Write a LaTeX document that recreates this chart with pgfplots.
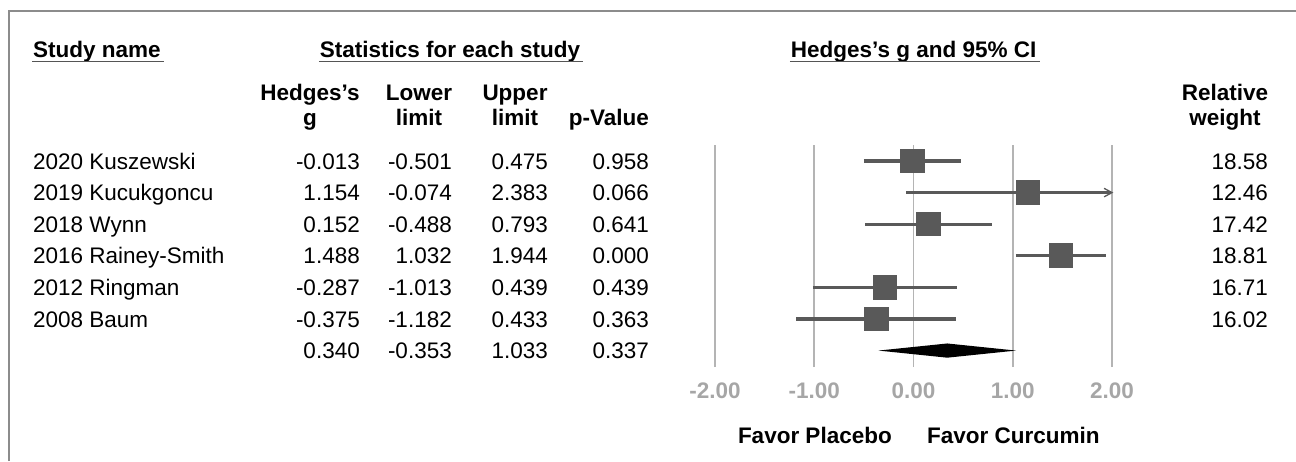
\documentclass[border=0pt]{standalone}
\usepackage{fontspec}
\setmainfont{Liberation Sans}
\usepackage{pgfplots}
\pgfplotsset{compat=1.18}
\definecolor{cic}{HTML}{595959}
\definecolor{gridc}{HTML}{B4B4B4}
\definecolor{tickc}{HTML}{A6A6A6}
\definecolor{framec}{HTML}{8C8C8C}
\definecolor{ulc}{HTML}{555555}
\begin{document}
\fontsize{22.5}{27}\selectfont
\begin{tikzpicture}
\begin{scope}[x=1pt,y=-1pt]
\path[use as bounding box] (0,0) rectangle (1296,461);
\draw[framec, line width=2pt] (8.5,461) -- (8.5,10.5) -- (1296,10.5);
% top headers
\node[anchor=base west, inner sep=0pt] (h1) at (33,57) {\bfseries Study name};
\node[anchor=base, inner sep=0pt] (h2) at (450,57) {\bfseries Statistics for each study};
\node[anchor=base, inner sep=0pt] (h3) at (913.7,57) {\bfseries Hedges's g and 95\% CI};
\foreach \n in {h1,h2,h3}{
  \draw[ulc, line width=1.8pt] ([xshift=-1pt,yshift=-4.5pt]\n.base west) -- ([xshift=3pt,yshift=-4.5pt]\n.base east);
}
% column headers
\node[anchor=base, inner sep=0pt] at (310,100) {\bfseries Hedges's};
\node[anchor=base, inner sep=0pt] at (310,125) {\bfseries g};
\node[anchor=base, inner sep=0pt] at (419,100) {\bfseries Lower};
\node[anchor=base, inner sep=0pt] at (419,125) {\bfseries limit};
\node[anchor=base, inner sep=0pt] at (515,100) {\bfseries Upper};
\node[anchor=base, inner sep=0pt] at (515,125) {\bfseries limit};
\node[anchor=base east, inner sep=0pt] at (649,125) {\bfseries p-Value};
\node[anchor=base, inner sep=0pt] at (1225,100) {\bfseries Relative};
\node[anchor=base, inner sep=0pt] at (1225,125) {\bfseries weight};
% rows
\foreach \yy/\nm/\g/\lo/\up/\p/\w in {
 169/2020 Kuszewski/-0.013/-0.501/0.475/0.958/18.58,
 200.7/2019 Kucukgoncu/1.154/-0.074/2.383/0.066/12.46,
 232.3/2018 Wynn/0.152/-0.488/0.793/0.641/17.42,
 263.9/2016 Rainey-Smith/1.488/1.032/1.944/0.000/18.81,
 295.5/2012 Ringman/-0.287/-1.013/0.439/0.439/16.71,
 327.1/2008 Baum/-0.375/-1.182/0.433/0.363/16.02}{
  \node[anchor=base west, inner sep=0pt] at (33,\yy) {\nm};
  \node[anchor=base east, inner sep=0pt] at (360,\yy) {\g};
  \node[anchor=base east, inner sep=0pt] at (452,\yy) {\lo};
  \node[anchor=base east, inner sep=0pt] at (548,\yy) {\up};
  \node[anchor=base east, inner sep=0pt] at (649,\yy) {\p};
  \node[anchor=base east, inner sep=0pt] at (1268,\yy) {\w};
}
\node[anchor=base east, inner sep=0pt] at (360,358.7) {0.340};
\node[anchor=base east, inner sep=0pt] at (452,358.7) {-0.353};
\node[anchor=base east, inner sep=0pt] at (548,358.7) {1.033};
\node[anchor=base east, inner sep=0pt] at (649,358.7) {0.337};
% favour labels
\node[anchor=base east, inner sep=0pt] at (892,443) {\bfseries Favor Placebo};
\node[anchor=base west, inner sep=0pt] at (927,443) {\bfseries Favor Curcumin};
\end{scope}
\begin{axis}[at={(715pt,-367pt)}, anchor=south west, scale only axis,
  width=397pt, height=222pt,
  xmin=-2, xmax=2, ymin=0.48, ymax=7.506,
  axis line style={draw=none},
  xtick={-2,-1,0,1,2},
  xticklabels={-2.00,-1.00,0.00,1.00,2.00},
  ytick=\empty,
  major tick style={draw=none},
  xmajorgrids, grid style={gridc, line width=1.8pt},
  xticklabel style={font=\bfseries, text=tickc, anchor=base, inner sep=0pt, yshift=-31pt},
  clip=false]
\pgfplotsset{ci/.style={cic, line width=3.2pt, no marks}}
\addplot[ci] coordinates {(-0.501,7) (0.475,7)};
\addplot[ci] coordinates {(-0.074,6) (1.985,6)};
\addplot[cic, line width=1.3pt, no marks] coordinates {(1.92,6.135) (2.0,6) (1.92,5.865)};
\addplot[ci] coordinates {(-0.488,5) (0.793,5)};
\addplot[ci] coordinates {(1.032,4) (1.944,4)};
\addplot[ci] coordinates {(-1.013,3) (0.439,3)};
\addplot[ci] coordinates {(-1.182,2) (0.433,2)};
\addplot[cic, only marks, mark=square*, mark size=11.8pt, mark options={fill=cic, draw=cic, line width=0pt}]
  coordinates {(-0.013,7) (1.154,6) (0.152,5) (1.488,4) (-0.287,3) (-0.375,2)};
\addplot[fill=black, draw=none] coordinates {(-0.353,1) (0.340,1.225) (1.033,1) (0.340,0.775)} -- cycle;
\end{axis}
\end{tikzpicture}
\end{document}
